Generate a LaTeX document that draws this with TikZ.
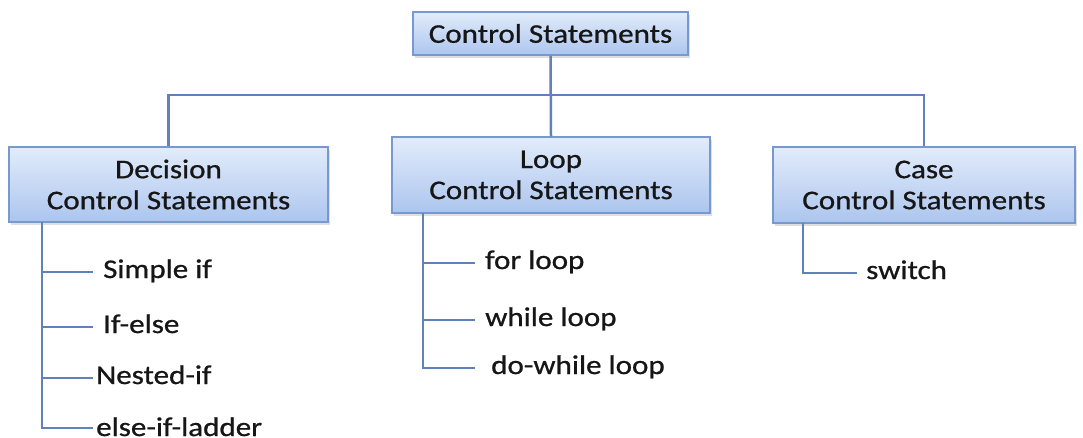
\documentclass[tikz,border=0pt]{standalone}
\usepackage{fontspec}
\setmainfont{Carlito}[FakeStretch=1.15, FakeBold=0.8]
\usetikzlibrary{shadows}
\definecolor{boxtop}{HTML}{E2ECFB}
\definecolor{boxbot}{HTML}{ACC5EE}
\definecolor{boxline}{HTML}{7799D0}
\definecolor{wire}{HTML}{5F82BB}
\definecolor{ink}{HTML}{161616}
\tikzset{
  stmtbox/.style={rectangle, draw=boxline, line width=1.5pt,
    top color=boxtop, bottom color=boxbot, align=center, text=ink,
    font=\fontsize{27}{31}\selectfont,
    drop shadow={opacity=0.25, shadow xshift=1.5pt, shadow yshift=-2.5pt}},
  kid/.style={anchor=west, inner xsep=#1, inner ysep=0pt, text=ink,
    font=\fontsize{27}{31}\selectfont, text height=17.5pt, text depth=5.5pt},
  kid/.default=10pt,
  wireline/.style={draw=wire, line width=2.5pt}
}
\begin{document}
\begin{tikzpicture}[x=1pt, y=-1pt]
  \useasboundingbox (0,0) rectangle (1083,437);

  % main categories
  \node[stmtbox, minimum width=275pt, minimum height=43pt] (top) at (550.5,33.5) {Control Statements};
  \node[stmtbox, minimum width=319pt, minimum height=75pt] (dec) at (168.5,184.5) {Decision\\Control Statements};
  \node[stmtbox, minimum width=318pt, minimum height=76pt] (loop) at (551,175) {Loop\\Control Statements};
  \node[stmtbox, minimum width=302pt, minimum height=76pt] (case) at (924,185) {Case\\Control Statements};

  % bus joining the three categories
  \coordinate (busL) at (168.5,95);
  \coordinate (busR) at (924,95);
  \draw[wireline] (dec.north) -- (busL) -- (busR) -- (case.north);
  \draw[wireline] (top.south) -- (loop.north);

  % decision statements
  \node[kid=10pt] (d1) at (93,272) {Simple if};
  \node[kid=10pt] (d2) at (93,327) {If-else};
  \node[kid=3pt]  (d3) at (93,378) {Nested-if};
  \node[kid=3pt, text height=16pt, text depth=0pt] (d4) at (93,428) {else-if-ladder};
  \coordinate (dtrunk) at (42,222);
  \draw[wireline] (dtrunk) |- (d4.west);
  \foreach \k in {d1,d2,d3} \draw[wireline] (dtrunk |- \k.west) -- (\k.west);

  % loop statements
  \node[kid=10pt] (l1) at (475,263) {for loop};
  \node[kid=10pt] (l2) at (475,320) {while loop};
  \node[kid=16pt] (l3) at (475,368) {do-while loop};
  \coordinate (ltrunk) at (423,213);
  \draw[wireline] (ltrunk) |- (l3.west);
  \foreach \k in {l1,l2} \draw[wireline] (ltrunk |- \k.west) -- (\k.west);

  % case statements
  \node[kid=9pt] (c1) at (857,273) {switch};
  \coordinate (ctrunk) at (803,223);
  \draw[wireline] (ctrunk) |- (c1.west);
\end{tikzpicture}
\end{document}
